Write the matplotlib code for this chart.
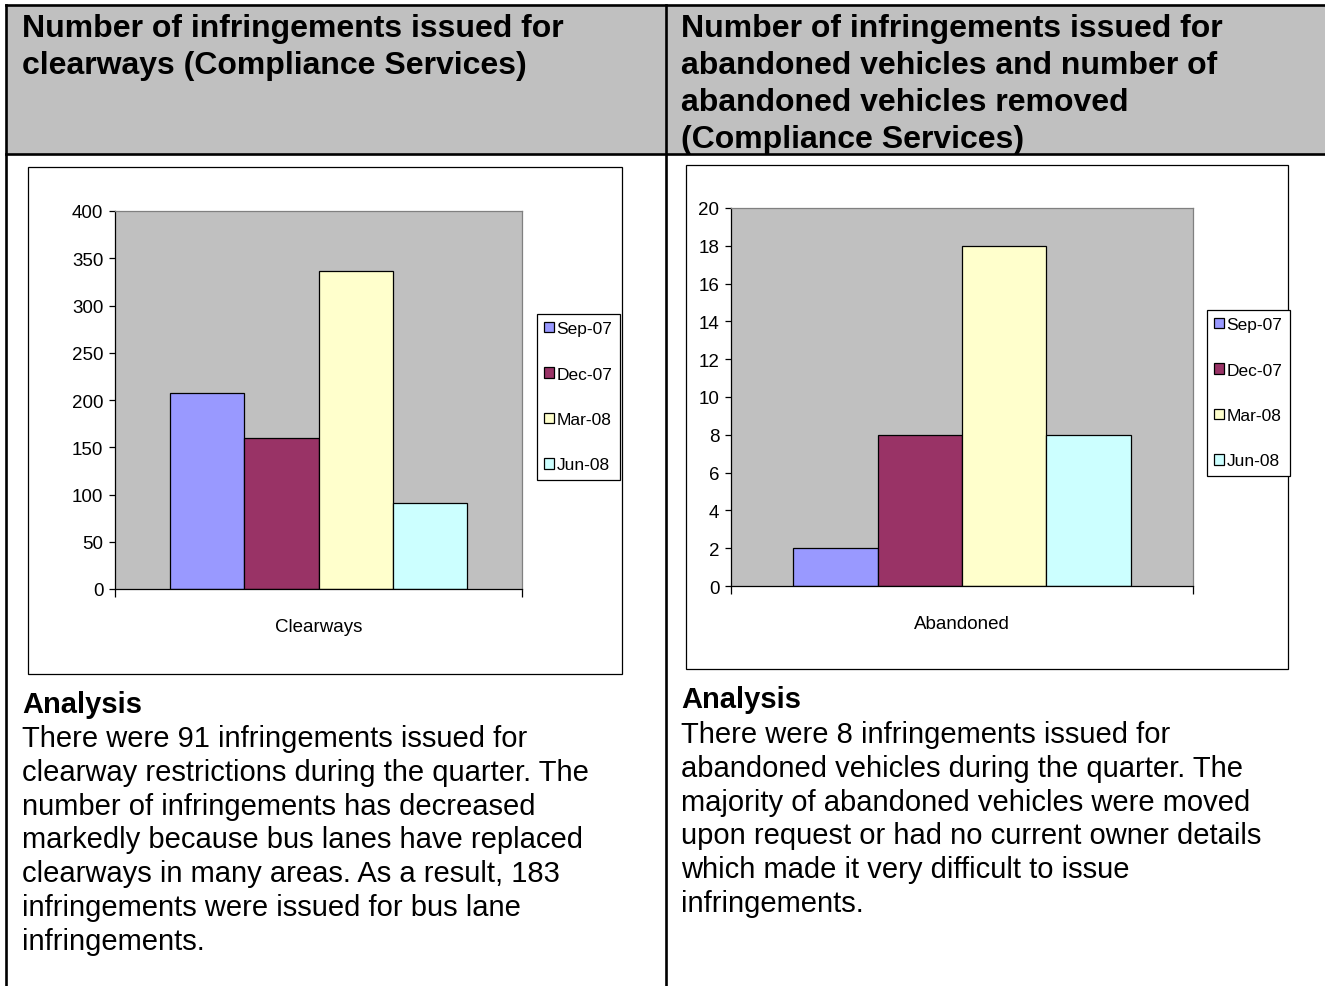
import matplotlib
matplotlib.use("Agg")
import matplotlib.pyplot as plt
from matplotlib.patches import Rectangle
from matplotlib.lines import Line2D

W, H = 1325, 987

# data
months = ["Sep-07", "Dec-07", "Mar-08", "Jun-08"]
clearways = [207, 160, 337, 91]
abandoned = [2, 8, 18, 8]
bar_colors = ["#9999FF", "#993366", "#FFFFCC", "#CCFFFF"]

left_title = ["Number of infringements issued for",
              "clearways (Compliance Services)"]
right_title = ["Number of infringements issued for",
               "abandoned vehicles and number of",
               "abandoned vehicles removed",
               "(Compliance Services)"]
left_text = ["There were 91 infringements issued for",
             "clearway restrictions during the quarter. The",
             "number of infringements has decreased",
             "markedly because bus lanes have replaced",
             "clearways in many areas. As a result, 183",
             "infringements were issued for bus lane",
             "infringements."]
right_text = ["There were 8 infringements issued for",
              "abandoned vehicles during the quarter. The",
              "majority of abandoned vehicles were moved",
              "upon request or had no current owner details",
              "which made it very difficult to issue",
              "infringements."]

ARIAL = ["Liberation Sans", "DejaVu Sans"]


def fx(x):
    return x / W


def fy(y):
    return 1 - y / H


def box(x0, y0, x1, y1):
    # pixel box -> figure fraction [left, bottom, width, height]
    return [fx(x0), fy(y1), (x1 - x0) / W, (y1 - y0) / H]


fig = plt.figure(figsize=(W / 100, H / 100), dpi=100)
fig.patch.set_facecolor("white")

# table header background and lines
fig.add_artist(Rectangle((fx(6), fy(155)), (W - 6) / W, 149 / H,
                         transform=fig.transFigure, facecolor="#C0C0C0",
                         edgecolor="none", zorder=0))
lw = 1.9
for (x0, y0, x1, y1) in [(6, 6, W, 6), (6, 155, W, 155),
                         (6, 6, 6, H), (666, 6, 666, H)]:
    fig.add_artist(Line2D([fx(x0), fx(x1)], [fy(y0), fy(y1)],
                          transform=fig.transFigure, color="black", lw=lw))

# headers
for i, line in enumerate(left_title):
    fig.text(fx(22), fy(37 + 37 * i), line, fontsize=23, fontweight="bold",
             family=ARIAL, va="baseline")
for i, line in enumerate(right_title):
    fig.text(fx(681), fy(37 + 37 * i), line, fontsize=23, fontweight="bold",
             family=ARIAL, va="baseline")

# analysis text
fig.text(fx(22), fy(713), "Analysis", fontsize=21, fontweight="bold",
         family=ARIAL, va="baseline")
for i, line in enumerate(left_text):
    fig.text(fx(22), fy(747 + 33.8 * i), line, fontsize=21, family=ARIAL,
             va="baseline")
fig.text(fx(681), fy(708), "Analysis", fontsize=21, fontweight="bold",
         family=ARIAL, va="baseline")
for i, line in enumerate(right_text):
    fig.text(fx(681), fy(743 + 33.8 * i), line, fontsize=21, family=ARIAL,
             va="baseline")


def draw_chart(chart_box, plot_box, legend_xy, values, ymax, ystep, label):
    # chart area frame
    x0, y0, x1, y1 = chart_box
    fig.add_artist(Rectangle((fx(x0), fy(y1)), (x1 - x0) / W, (y1 - y0) / H,
                             transform=fig.transFigure, facecolor="white",
                             edgecolor="black", lw=0.9, zorder=1))
    ax = fig.add_axes(box(*plot_box))
    ax.set_zorder(2)
    ax.set_facecolor("#C0C0C0")
    width = 0.1825
    bars = []
    for i, (m, v, c) in enumerate(zip(months, values, bar_colors)):
        b = ax.bar(-0.365 + width * (i + 0.5), v, width=width, color=c,
                   edgecolor="black", linewidth=0.9, label=m)
        bars.append(b)
    ax.set_xlim(-0.5, 0.5)
    ax.set_ylim(0, ymax)
    ax.set_yticks(range(0, ymax + 1, ystep))
    ax.set_xticks([0], [label])
    ax.set_xticks([-0.5, 0.5], minor=True)
    ax.tick_params(axis="x", which="major", length=0, pad=21)
    ax.tick_params(axis="x", which="minor", length=5.5, width=0.9,
                   direction="out", color="black")
    ax.tick_params(axis="y", length=4.3, width=0.9, direction="out",
                   pad=4, color="black")
    for t in ax.get_yticklabels() + ax.get_xticklabels():
        t.set_family(ARIAL)
        t.set_fontsize(13.5)
    for s in ["top", "right"]:
        ax.spines[s].set_color("#808080")
        ax.spines[s].set_linewidth(0.9)
    for s in ["left", "bottom"]:
        ax.spines[s].set_color("black")
        ax.spines[s].set_linewidth(0.9)
    leg = ax.legend(handles=bars, loc="upper left",
                    bbox_to_anchor=(fx(legend_xy[0]), fy(legend_xy[1])),
                    bbox_transform=fig.transFigure, borderaxespad=0,
                    prop={"family": ARIAL, "size": 12.5}, frameon=True,
                    fancybox=False, edgecolor="black", framealpha=1,
                    handlelength=0.55, handleheight=0.55, handletextpad=0.15,
                    labelspacing=1.75, borderpad=0.42)
    leg.get_frame().set_linewidth(0.9)
    return ax


draw_chart((28, 168, 622, 675), (115, 212, 522, 590), (537, 315),
           clearways, 400, 50, "Clearways")
draw_chart((686, 166, 1288, 670), (731, 209, 1193, 587), (1207, 311),
           abandoned, 20, 2, "Abandoned")

fig.savefig("out.png", dpi=100)
